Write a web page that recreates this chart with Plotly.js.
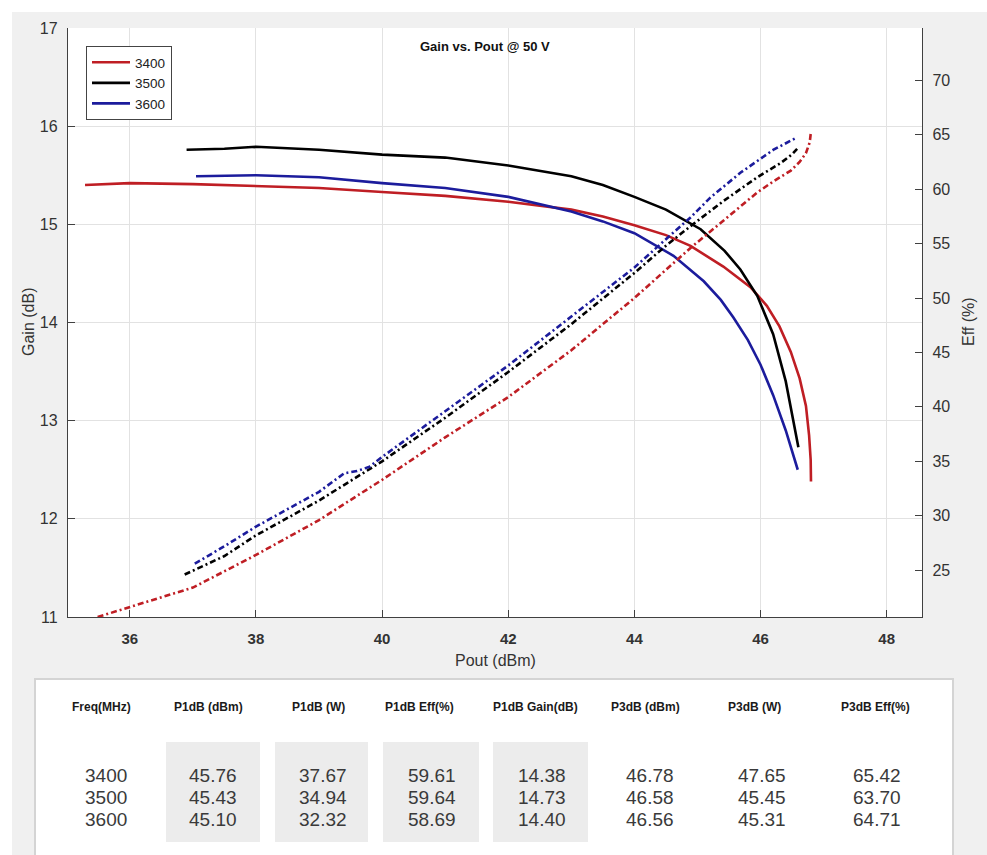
<!DOCTYPE html>
<html><head><meta charset="utf-8">
<script src="https://cdn.plot.ly/plotly-3.0.1.min.js"></script>
<style>html,body{margin:0;padding:0;background:#fff;}#chart{width:987px;height:855px;}</style>
</head><body><div id="chart"></div>
<script>
// ---------- DATA ----------
const freqs = ['3400', '3500', '3600'];

// Gain vs Pout (left axis)
const poutGain3400 = [35.29, 36, 37, 38, 39, 40, 41, 42, 43, 43.5, 44, 44.5, 44.89, 45.41, 45.84, 46.1, 46.3, 46.48, 46.62, 46.72, 46.77, 46.795, 46.8];
const gain3400     = [15.40, 15.42, 15.41, 15.39, 15.37, 15.33, 15.29, 15.23, 15.15, 15.08, 14.99, 14.89, 14.78, 14.57, 14.36, 14.17, 13.96, 13.70, 13.43, 13.15, 12.85, 12.60, 12.38];
const poutGain3500 = [36.9, 37.5, 38, 39, 40, 41, 42, 43, 43.5, 44, 44.5, 45.05, 45.43, 45.68, 45.95, 46.2, 46.4, 46.52, 46.6];
const gain3500     = [15.76, 15.77, 15.79, 15.76, 15.71, 15.68, 15.60, 15.49, 15.40, 15.28, 15.15, 14.95, 14.73, 14.54, 14.27, 13.88, 13.40, 13.02, 12.73];
const poutGain3600 = [37.05, 38, 39, 40, 41, 42, 43, 43.5, 44, 44.62, 45.1, 45.37, 45.57, 45.8, 46.0, 46.2, 46.4, 46.59];
const gain3600     = [15.49, 15.50, 15.48, 15.42, 15.37, 15.28, 15.13, 15.03, 14.91, 14.68, 14.42, 14.23, 14.05, 13.82, 13.57, 13.26, 12.9, 12.5];

// Efficiency vs Pout (right axis)
const poutEff3400 = [35.49, 36, 37, 38, 39, 40, 41, 42, 43, 44, 44.5, 44.89, 45.41, 45.95, 46.2, 46.48, 46.62, 46.72, 46.78, 46.8];
const eff3400     = [20.7, 21.6, 23.4, 26.4, 29.6, 33.3, 37.2, 40.9, 45.2, 50.0, 52.6, 54.6, 57.1, 59.7, 60.7, 61.7, 62.5, 63.3, 64.3, 65.3];
const poutEff3500 = [36.87, 37.5, 38, 39, 40, 41, 42, 43, 44, 44.5, 44.89, 45.41, 45.95, 46.32, 46.5, 46.58];
const eff3500     = [24.6, 26.3, 28.2, 31.4, 35.0, 39.0, 43.2, 47.6, 52.3, 54.8, 56.6, 58.9, 61.1, 62.4, 63.2, 63.7];
const poutEff3600 = [37.03, 37.5, 38, 39, 39.4, 39.6, 39.8, 40, 41, 42, 43, 44, 44.5, 44.89, 45.2, 45.68, 46.2, 46.45, 46.56];
const eff3600     = [25.6, 27.2, 29.0, 32.2, 33.9, 34.1, 34.5, 35.4, 39.6, 43.8, 48.3, 52.8, 55.4, 57.4, 59.2, 61.5, 63.6, 64.4, 64.7];

// Table
const tableHeaders = ['Freq(MHz)', 'P1dB (dBm)', 'P1dB (W)', 'P1dB Eff(%)', 'P1dB Gain(dB)', 'P3dB (dBm)', 'P3dB (W)', 'P3dB Eff(%)'];
const p1dBdBm  = [45.76, 45.43, 45.10];
const p1dBW    = [37.67, 34.94, 32.32];
const p1dBEff  = [59.61, 59.64, 58.69];
const p1dBGain = [14.38, 14.73, 14.40];
const p3dBdBm  = [46.78, 46.58, 46.56];
const p3dBW    = [47.65, 45.45, 45.31];
const p3dBEff  = [65.42, 63.70, 64.71];

const xTicks = [36, 38, 40, 42, 44, 46, 48];
const yTicks = [11, 12, 13, 14, 15, 16, 17];
const y2Ticks = [25, 30, 35, 40, 45, 50, 55, 60, 65, 70];

// ---------- LAYOUT HELPERS ----------
const L = 68, R = 922, T = 28, B = 617;
const px = x => (x - L) / (R - L);
const py = y => (B - y) / (B - T);
const FONT = 'Liberation Sans, Arial, Helvetica, sans-serif';

const colors = ['#bf1e24', '#000000', '#1c1c9c'];
const gainX = [poutGain3400, poutGain3500, poutGain3600];
const gainY = [gain3400, gain3500, gain3600];
const effX = [poutEff3400, poutEff3500, poutEff3600];
const effY = [eff3400, eff3500, eff3600];

const traces = [];
for (let i = 0; i < 3; i++) {
  traces.push({
    x: gainX[i], y: gainY[i], type: 'scatter', mode: 'lines', name: freqs[i],
    line: {color: colors[i], width: 2.6},
    yaxis: 'y', hoverinfo: 'skip'
  });
}
for (let i = 0; i < 3; i++) {
  traces.push({
    x: effX[i], y: effY[i], type: 'scatter', mode: 'lines', name: freqs[i] + ' Eff',
    line: {color: colors[i], width: 2.6, dash: '6px,3px,2px,3px'},
    yaxis: 'y2', showlegend: false, hoverinfo: 'skip'
  });
}

const shapes = [
  {type: 'rect', xref: 'paper', yref: 'paper', x0: px(0), x1: px(987), y0: py(0), y1: py(12), fillcolor: '#ffffff', line: {width: 0}, layer: 'below'},
  {type: 'rect', xref: 'paper', yref: 'paper', x0: px(0), x1: px(12), y0: py(0), y1: py(855), fillcolor: '#ffffff', line: {width: 0}, layer: 'below'},
  {type: 'rect', xref: 'paper', yref: 'paper', x0: px(35), x1: px(953), y0: py(679), y1: py(860), fillcolor: '#ffffff', line: {color: '#d4d4d4', width: 2}, layer: 'below'}
];
const greyCells = [[166, 260], [275, 368], [383, 479], [493, 588]];
greyCells.forEach(c => shapes.push({type: 'rect', xref: 'paper', yref: 'paper', x0: px(c[0]), x1: px(c[1]), y0: py(742), y1: py(842), fillcolor: '#ececec', line: {width: 0}, layer: 'below'}));

function ann(text, x, y, size, color, extra) {
  return Object.assign({text: text, x: px(x), y: py(y), xref: 'paper', yref: 'paper', showarrow: false,
    xanchor: 'center', yanchor: 'middle', font: {family: FONT, size: size, color: color}}, extra || {});
}

const annotations = [
  ann('<b>Gain vs. Pout @ 50 V</b>', 485, 47, 13, '#111'),
  ann('Gain (dB)', 28, 322, 16, '#333', {textangle: -90}),
  ann('Eff (%)', 968, 322, 16, '#333', {textangle: -90}),
  ann('Pout (dBm)', 495, 660, 16, '#333')
];

const headerX = [101, 208, 318, 419, 535, 645, 754, 875];
const valueX  = [106, 213, 323, 432, 542, 650, 762, 877];
tableHeaders.forEach((h, j) => annotations.push(ann('<b>' + h + '</b>', headerX[j], 707, 12, '#1a1a1a')));
const cols = [freqs, p1dBdBm, p1dBW, p1dBEff, p1dBGain, p3dBdBm, p3dBW, p3dBEff];
const rowY = [775, 797, 819];
cols.forEach((col, j) => col.forEach((v, r) => annotations.push(
  ann((typeof v === 'number') ? v.toFixed(2) : v, valueX[j], rowY[r], 19, '#3a3a3a'))));

const axisCommon = {
  ticks: 'inside', ticklen: 7, tickwidth: 1, tickcolor: '#404040',
  showline: true, linecolor: '#404040', linewidth: 1.2, zeroline: false,
  fixedrange: true
};

const layout = {
  width: 987, height: 855,
  margin: {l: L, r: 987 - R, t: T, b: 855 - B, pad: 0},
  paper_bgcolor: '#f0f0f0', plot_bgcolor: '#ffffff',
  font: {family: FONT},
  showlegend: true,
  legend: {
    x: px(86), y: py(46), xanchor: 'left', yanchor: 'top',
    bgcolor: '#ffffff', bordercolor: '#444', borderwidth: 1,
    font: {family: FONT, size: 13.5, color: '#222'},
    tracegroupgap: 0, itemwidth: 38
  },
  xaxis: Object.assign({}, axisCommon, {
    range: [35.02, 48.56], tickvals: xTicks, ticktext: xTicks.map(String),
    showgrid: true, gridcolor: '#e2e2e2', gridwidth: 1,
    tickfont: {family: FONT, size: 15, color: '#333', weight: 'bold'},
    ticklabelstandoff: 8
  }),
  yaxis: Object.assign({}, axisCommon, {
    range: [11, 17], tickvals: yTicks, ticktext: yTicks.map(String),
    showgrid: true, gridcolor: '#e2e2e2', gridwidth: 1,
    tickfont: {family: FONT, size: 16, color: '#333'},
    ticklabelstandoff: 6
  }),
  yaxis2: Object.assign({}, axisCommon, {
    overlaying: 'y', side: 'right', anchor: 'x',
    range: [20.7, 74.8], tickvals: y2Ticks, ticktext: y2Ticks.map(String),
    showgrid: false,
    tickfont: {family: FONT, size: 16, color: '#333'},
    ticklabelstandoff: 6
  }),
  shapes: shapes,
  annotations: annotations
};

Plotly.newPlot('chart', traces, layout, {displayModeBar: false, staticPlot: true});
</script>
</body></html>
